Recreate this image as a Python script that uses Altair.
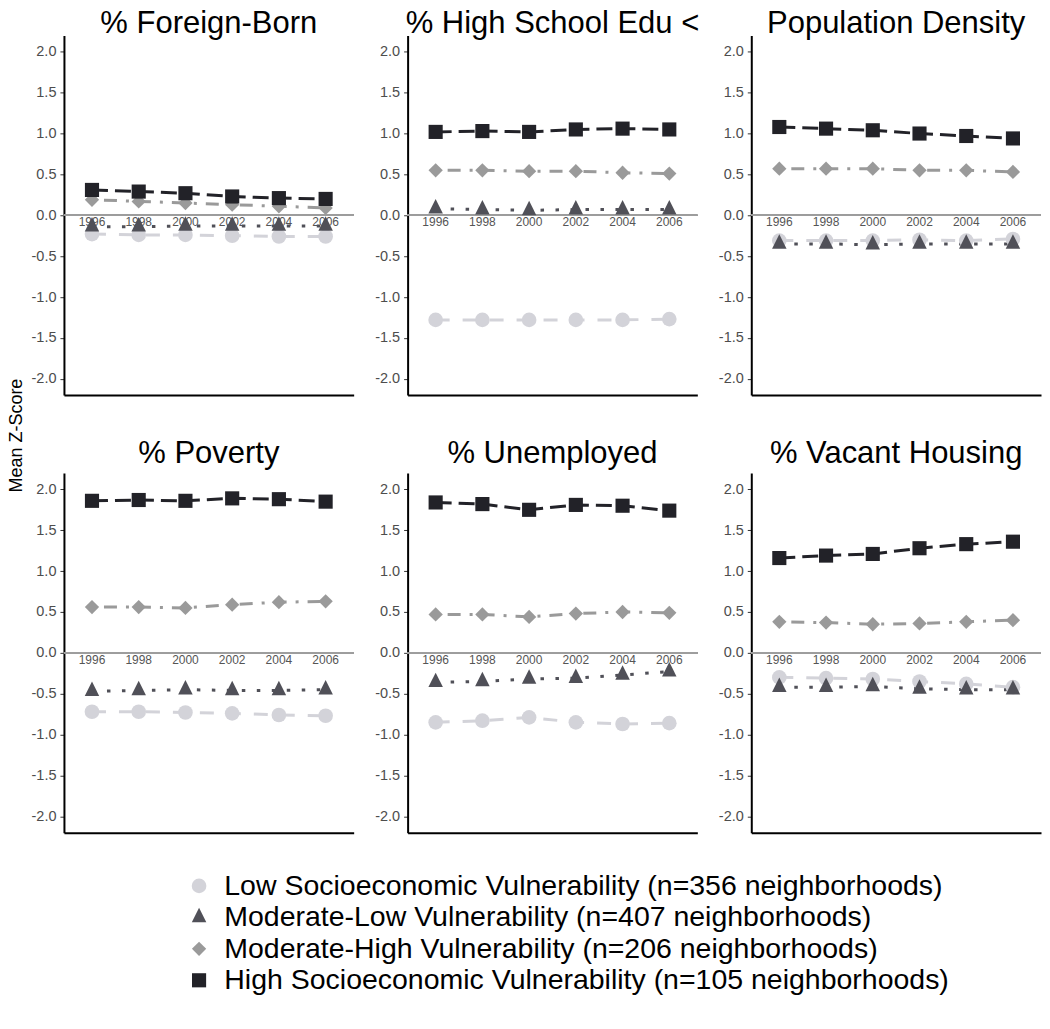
import altair as alt
import pandas as pd

FONT = "Liberation Sans"

years = [1996, 1998, 2000, 2002, 2004, 2006]

variables = ["% Foreign-Born", "% High School Edu <", "Population Density",
             "% Poverty", "% Unemployed", "% Vacant Housing"]

groups = ["Low Socioeconomic Vulnerability (n=356 neighborhoods)",
          "Moderate-Low Vulnerability (n=407 neighborhoods)",
          "Moderate-High Vulnerability (n=206 neighborhoods)",
          "High Socioeconomic Vulnerability (n=105 neighborhoods)"]

# values per variable, in group order: Low, Moderate-Low, Moderate-High, High
foreign_born = [[-0.23, -0.24, -0.24, -0.25, -0.26, -0.26],
                [-0.14, -0.14, -0.13, -0.13, -0.13, -0.13],
                [0.19, 0.17, 0.15, 0.13, 0.11, 0.09],
                [0.31, 0.29, 0.27, 0.23, 0.21, 0.20]]
high_school = [[-1.28, -1.28, -1.28, -1.28, -1.28, -1.27],
               [0.08, 0.07, 0.06, 0.07, 0.07, 0.07],
               [0.55, 0.55, 0.54, 0.54, 0.52, 0.51],
               [1.02, 1.03, 1.02, 1.05, 1.06, 1.05]]
pop_density = [[-0.31, -0.31, -0.31, -0.30, -0.31, -0.29],
               [-0.35, -0.35, -0.36, -0.35, -0.35, -0.35],
               [0.57, 0.57, 0.57, 0.55, 0.55, 0.53],
               [1.08, 1.06, 1.04, 1.00, 0.97, 0.94]]
poverty = [[-0.72, -0.72, -0.73, -0.74, -0.76, -0.77],
           [-0.47, -0.46, -0.45, -0.46, -0.46, -0.45],
           [0.56, 0.56, 0.55, 0.59, 0.62, 0.63],
           [1.86, 1.87, 1.86, 1.89, 1.88, 1.85]]
unemployed = [[-0.85, -0.83, -0.79, -0.85, -0.87, -0.86],
              [-0.36, -0.35, -0.32, -0.31, -0.27, -0.23],
              [0.47, 0.47, 0.44, 0.48, 0.50, 0.49],
              [1.84, 1.82, 1.75, 1.81, 1.80, 1.74]]
vacant = [[-0.30, -0.31, -0.32, -0.35, -0.38, -0.42],
          [-0.42, -0.42, -0.41, -0.44, -0.45, -0.45],
          [0.38, 0.37, 0.35, 0.36, 0.38, 0.40],
          [1.16, 1.19, 1.21, 1.28, 1.33, 1.36]]

series = [foreign_born, high_school, pop_density, poverty, unemployed, vacant]

colors = ["#d3d3d9", "#505058", "#9a9a9a", "#222228"]
dashes = [[14, 13], [3.5, 11.5], [3, 9, 13, 9], [16, 7]]
TRI = "M0,-1.333L1,0.667L-1,0.667Z"
shapes = ["circle", TRI, "diamond", "square"]
sizes = [215, 200, 200, 177]

rows = []
for var, block in zip(variables, series):
    for g, vals in zip(groups, block):
        for yr, v in zip(years, vals):
            rows.append({"variable": var, "group": g, "year": yr, "value": v})
df = pd.DataFrame(rows)
years_df = pd.DataFrame({"year": years})
legend_df = pd.DataFrame({"group": groups})

W, H = 290, 360

color_scale = alt.Scale(domain=groups, range=colors)
shape_scale = alt.Scale(domain=groups, range=shapes)
size_scale = alt.Scale(domain=groups, range=sizes)


def panel(i, var):
    d = df[df["variable"] == var]
    xenc = alt.X("year:O", scale=alt.Scale(type="point", padding=0.6),
                 axis=alt.Axis(labels=False, ticks=False, title=None,
                               domainColor="black", domainWidth=2, grid=False))
    yaxis = dict(values=[-2.0, -1.5, -1.0, -0.5, 0.0, 0.5, 1.0, 1.5, 2.0],
                 labelExpr="(datum.value < 0 ? '-' : '') + format(abs(datum.value), '.1f')",
                 labelFontSize=14.5, labelFont=FONT, labelColor="#4d4d4d",
                 tickColor="#333333", tickSize=4, tickWidth=1, labelPadding=4,
                 domainColor="black", domainWidth=2, grid=False)
    if i == 0:
        yaxis.update(title="Mean Z-Score", titleFontSize=18, titleFont=FONT,
                     titleFontWeight="normal", titleColor="black",
                     titleX=-38, titleY=400, titleAngle=270,
                     titleBaseline="bottom", titleAlign="center")
    else:
        yaxis.update(title=None)
    yenc = alt.Y("value:Q", scale=alt.Scale(domain=[-2.2, 2.2], nice=False, zero=False),
                 axis=alt.Axis(**yaxis))

    rule = alt.Chart(d).mark_rule(color="#9e9e9e", strokeWidth=1).encode(y=alt.datum(0))
    labels = alt.Chart(years_df).mark_text(baseline="top", dy=2, fontSize=12,
                                           font=FONT, color="#555555").encode(
        x=xenc, y=alt.datum(0), text="year:O")
    lines = alt.Chart(d).mark_line(strokeWidth=3).encode(
        x=xenc, y=yenc,
        stroke=alt.Stroke("group:N", scale=color_scale, legend=None),
        strokeDash=alt.StrokeDash("group:N", scale=alt.Scale(domain=groups, range=dashes), legend=None),
        detail="group:N")
    points = alt.Chart(d).mark_point(filled=True, opacity=1, strokeWidth=0).encode(
        x=xenc, y=yenc,
        color=alt.Color("group:N", scale=color_scale, legend=None),
        shape=alt.Shape("group:N", scale=shape_scale, legend=None),
        size=alt.Size("group:N", scale=size_scale, legend=None))
    off = -29 if i < 3 else -21
    return alt.layer(rule, labels, lines, points).properties(
        width=W, height=H,
        title=alt.TitleParams(text=var, fontSize=31, font=FONT, fontWeight="normal",
                              color="black", anchor="middle", frame="group",
                              baseline="alphabetic", offset=off))


legend = alt.Legend(title=None, orient="none", legendX=121, legendY=-39,
                    direction="vertical", labelFontSize=28.5, labelFont=FONT,
                    labelColor="black", labelLimit=2000, labelOffset=11,
                    rowPadding=2.5, symbolStrokeWidth=0, symbolOpacity=1, padding=0)

legend_cell = alt.Chart(legend_df).mark_point(filled=True, opacity=0, strokeWidth=0).encode(
    y=alt.Y("group:N", sort=groups, axis=None),
    color=alt.Color("group:N", scale=color_scale, legend=legend),
    shape=alt.Shape("group:N", scale=shape_scale, legend=legend),
    size=alt.Size("group:N", scale=size_scale, legend=legend),
).properties(width=W, height=80)

cells = [panel(i, v) for i, v in enumerate(variables)] + [legend_cell]

chart = alt.concat(*cells, columns=3,
                   spacing={"row": 78, "column": 54}, bounds="flush").properties(
    padding=0).configure_view(stroke=None).resolve_scale(
    color="independent", shape="independent", size="independent",
    stroke="independent", strokeDash="independent").resolve_legend(
    color="independent", shape="independent", size="independent")

chart.save("out.html", embed_options={"renderer": "svg", "actions": False})
